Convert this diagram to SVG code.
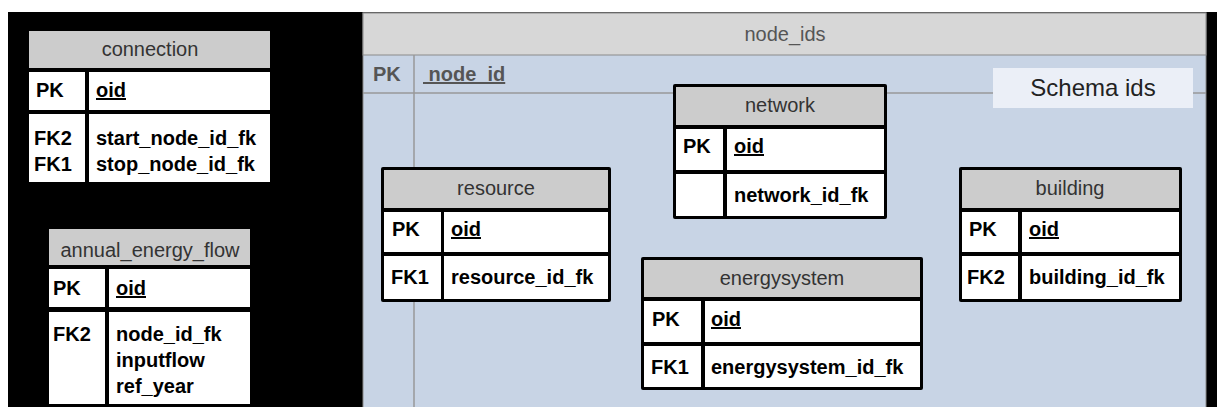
<svg xmlns="http://www.w3.org/2000/svg" width="1217" height="407" viewBox="0 0 1217 407">
<style>
text{font-family:"Liberation Sans",Arial,sans-serif;font-size:20px}
.hd{fill:#cccccc}
.cell{fill:#ffffff}
.ht{fill:#333333;text-anchor:middle}
.b{font-weight:bold;fill:#000000}
.u{text-decoration:underline}
.frame{fill:#000000}
</style>
<rect x="0" y="0" width="1217" height="407" fill="#ffffff"/>
<rect x="8" y="12" width="1209" height="395" fill="#000000"/>

<g id="node_ids">
<rect x="363" y="13" width="843" height="400" fill="#c8d4e5" stroke="#8a8a8a" stroke-width="1"/>
<rect x="363" y="13" width="843" height="42" fill="#d7d7d7" stroke="#8a8a8a" stroke-width="1"/>
<line x1="414" y1="55" x2="414" y2="407" stroke="#999999" stroke-width="1.5"/>
<line x1="363" y1="93" x2="1206" y2="93" stroke="#999999" stroke-width="1.5"/>
<text x="785" y="41" fill="#555555" text-anchor="middle">node_ids</text>
<text x="373" y="81" font-weight="bold" fill="#555555">PK</text>
<text x="423" y="81" font-weight="bold" fill="#555555" text-decoration="underline" xml:space="preserve"> node_id</text>
</g>

<g id="schema_ids">
<rect x="993" y="68" width="200" height="40" fill="#ebeff7"/>
<text x="1093" y="96" font-size="24" fill="#222222" text-anchor="middle" style="font-size:24px">Schema ids</text>
</g>

<g id="connection">
<rect class="hd" x="29" y="31" width="241" height="37"/>
<text class="ht" x="150" y="56">connection</text>
<rect class="cell" x="29" y="72" width="56" height="38"/>
<rect class="cell" x="89" y="72" width="181" height="38"/>
<rect class="cell" x="29" y="114" width="56" height="68"/>
<rect class="cell" x="89" y="114" width="181" height="68"/>
<text class="b" x="36" y="97">PK</text>
<text class="b u" x="96" y="97">oid</text>
<text class="b" x="34" y="145">FK2</text>
<text class="b" x="34" y="171">FK1</text>
<text class="b" x="96" y="145">start_node_id_fk</text>
<text class="b" x="96" y="171">stop_node_id_fk</text>
</g>

<g id="annual_energy_flow">
<rect class="hd" x="49" y="229" width="201" height="36"/>
<text class="ht" x="150" y="257">annual_energy_flow</text>
<rect class="cell" x="49" y="269" width="56" height="38"/>
<rect class="cell" x="109" y="269" width="141" height="38"/>
<rect class="cell" x="49" y="312" width="56" height="92"/>
<rect class="cell" x="109" y="312" width="141" height="92"/>
<text class="b" x="53" y="295">PK</text>
<text class="b u" x="116" y="295">oid</text>
<text class="b" x="53" y="341">FK2</text>
<text class="b" x="116" y="341">node_id_fk</text>
<text class="b" x="116" y="367">inputflow</text>
<text class="b" x="116" y="393">ref_year</text>
</g>

<g id="network">
<rect class="frame" x="673" y="84" width="214" height="135" rx="2"/>
<rect class="hd" x="676" y="87" width="208" height="38"/>
<text class="ht" x="780" y="112">network</text>
<rect class="cell" x="676" y="129" width="47" height="41"/>
<rect class="cell" x="727" y="129" width="157" height="41"/>
<rect class="cell" x="676" y="174" width="47" height="42"/>
<rect class="cell" x="727" y="174" width="157" height="42"/>
<text class="b" x="683" y="153">PK</text>
<text class="b u" x="734" y="153">oid</text>
<text class="b" x="734" y="202">network_id_fk</text>
</g>

<g id="resource">
<rect class="frame" x="381" y="167" width="230" height="135" rx="2"/>
<rect class="hd" x="384" y="170" width="224" height="38"/>
<text class="ht" x="496" y="195">resource</text>
<rect class="cell" x="384" y="212" width="57" height="40"/>
<rect class="cell" x="444" y="212" width="164" height="40"/>
<rect class="cell" x="384" y="256" width="57" height="43"/>
<rect class="cell" x="444" y="256" width="164" height="43"/>
<text class="b" x="392" y="236">PK</text>
<text class="b u" x="451" y="236">oid</text>
<text class="b" x="391" y="284">FK1</text>
<text class="b" x="451" y="284">resource_id_fk</text>
</g>

<g id="energysystem">
<rect class="frame" x="641" y="257" width="282" height="133" rx="2"/>
<rect class="hd" x="644" y="260" width="276" height="37"/>
<text class="ht" x="782" y="285">energysystem</text>
<rect class="cell" x="644" y="301" width="57" height="41"/>
<rect class="cell" x="705" y="301" width="215" height="41"/>
<rect class="cell" x="644" y="346" width="57" height="41"/>
<rect class="cell" x="705" y="346" width="215" height="41"/>
<text class="b" x="652" y="326">PK</text>
<text class="b u" x="711" y="326">oid</text>
<text class="b" x="651" y="374">FK1</text>
<text class="b" x="711" y="374">energysystem_id_fk</text>
</g>

<g id="building">
<rect class="frame" x="959" y="167" width="223" height="135" rx="2"/>
<rect class="hd" x="962" y="170" width="217" height="38"/>
<text class="ht" x="1070" y="195">building</text>
<rect class="cell" x="962" y="212" width="56" height="40"/>
<rect class="cell" x="1022" y="212" width="157" height="40"/>
<rect class="cell" x="962" y="256" width="56" height="43"/>
<rect class="cell" x="1022" y="256" width="157" height="43"/>
<text class="b" x="969" y="236">PK</text>
<text class="b u" x="1029" y="236">oid</text>
<text class="b" x="967" y="284">FK2</text>
<text class="b" x="1029" y="284">building_id_fk</text>
</g>

<g id="connectors"></g>
</svg>
